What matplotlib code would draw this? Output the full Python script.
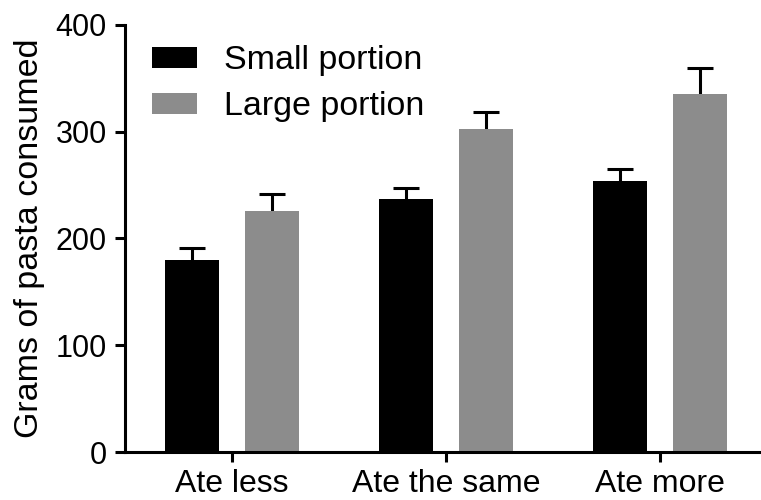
import numpy as np
import matplotlib
matplotlib.use("Agg")
import matplotlib.pyplot as plt

categories = ["Ate less", "Ate the same", "Ate more"]
small_portion = [180, 237, 254]
small_err = [11.5, 10, 11.5]
large_portion = [226, 303, 335]
large_err = [15.5, 15.5, 24.5]
yticks = [0, 100, 200, 300, 400]

plt.rcParams['font.family'] = ['Liberation Sans', 'DejaVu Sans']
plt.rcParams['font.size'] = 22

fig = plt.figure(figsize=(7.61, 5.0), dpi=100)
ax = fig.add_axes([125/761, 48/500, 642/761, 427/500])

x = np.arange(len(categories))
w = 0.25
off = 0.1875
dark = "#000000"
grey = "#8c8c8c"

ax.bar(x - off, small_portion, w, color=dark, zorder=2, label="Small portion")
ax.bar(x + off, large_portion, w, color=grey, zorder=2, label="Large portion")
# upper error bars only: hide the lower caps
for xs, ys, es in [(x - off, small_portion, small_err), (x + off, large_portion, large_err)]:
    eb = ax.errorbar(xs, ys, yerr=[np.zeros(3), es], fmt="none", ecolor="black",
                     elinewidth=2.2, capsize=9.4, capthick=2.2, zorder=1)
    eb[1][0].set_visible(False)

ax.set_xlim(-0.5, 2.5)
ax.set_ylim(0, 400)
ax.set_yticks(yticks)
ax.set_xticks(x)
ax.set_xticklabels(categories, fontsize=23)
ax.set_ylabel("Grams of pasta consumed", fontsize=24.5, labelpad=8)

for s in ["top", "right"]:
    ax.spines[s].set_visible(False)
for s in ["left", "bottom"]:
    ax.spines[s].set_linewidth(2.2)
ax.tick_params(axis="both", width=2.2, length=7)
ax.tick_params(axis="y", pad=6)
ax.tick_params(axis="x", pad=5)

ax.legend(loc="upper left", bbox_to_anchor=(0.042, 0.952), frameon=False, fontsize=24.5,
          borderaxespad=0, borderpad=0, handlelength=1.32, handleheight=0.6,
          handletextpad=0.8, labelspacing=0.44)

fig.savefig("out.png", dpi=100)
